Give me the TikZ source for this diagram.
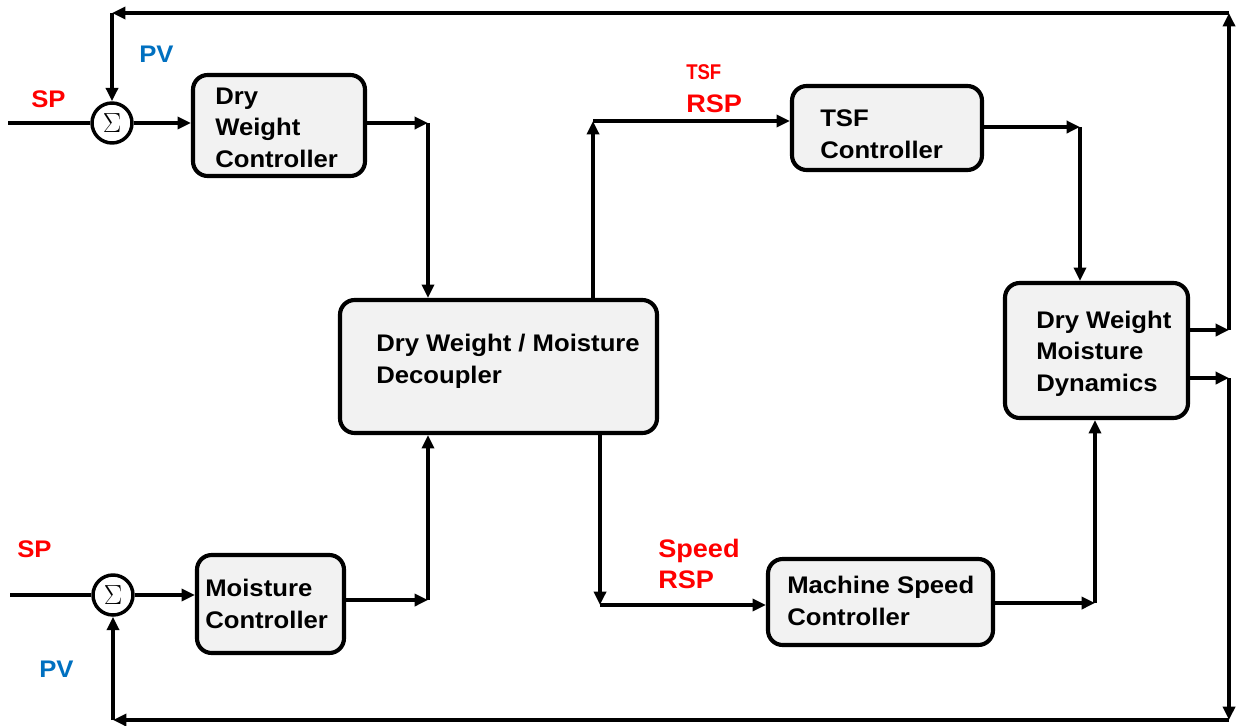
\documentclass[tikz,border=0pt]{standalone}
\usepackage{fontspec}
\setmainfont{Liberation Sans}[FakeStretch=1.07]
\newfontfamily\narrowsf{Liberation Sans}[FakeStretch=0.87]
\usetikzlibrary{arrows.meta,fit}
\definecolor{boxgray}{HTML}{F2F2F2}
\definecolor{sred}{HTML}{FF0000}
\definecolor{pvblue}{HTML}{0070C0}
\begin{document}
\begin{tikzpicture}[x=0.75pt,y=-0.75pt,
  box/.style={draw, line width=3.1pt, rounded corners=11pt, fill=boxgray, inner sep=0pt},
  sumnode/.style={circle, draw, line width=2.6pt, minimum size=30pt, inner sep=0pt, fill=white, font=\fontsize{22}{22}\selectfont},
  wire/.style={line width=2.6pt},
  arr/.style={wire, -{Triangle[length=10pt,width=9pt]}},
  txt/.style={font=\fontsize{18}{23.5}\selectfont\bfseries, align=left, anchor=base west, inner sep=0pt},
  redlbl/.style={txt, text=sred, font=\fontsize{19}{23.25}\selectfont\bfseries},
  bluelbl/.style={txt, text=pvblue}
]
\useasboundingbox (0,0) rectangle (1238,725);

% blocks
\node[sumnode] (s1) at (112,123) {$\Sigma$};
\node[sumnode] (s2) at (113,595) {$\Sigma$};
\node[box, fit={(193,75) (365,176)}] (dwc) {};
\node[box, fit={(340,300) (657,433)}] (dec) {};
\node[box, fit={(197,555) (344,653)}] (mc) {};
\node[box, fit={(792,86) (982,170)}] (tsf) {};
\node[box, fit={(768,559) (993,645)}] (msc) {};
\node[box, fit={(1005,283) (1188,418)}] (dyn) {};

% block texts (anchored at the baseline of the last line)
\node[txt] (dwct) at (215,167) {Dry\\Weight\\Controller};
\node[txt] (dect) at (376,383) {Dry Weight / Moisture\\Decoupler};
\node[txt] (mct) at (205,628) {Moisture\\Controller};
\node[txt] (tsft) at (820,158) {TSF\\Controller};
\node[txt] (msct) at (787,625) {Machine Speed\\Controller};
\node[txt] (dynt) at (1036,391) {Dry Weight\\Moisture\\Dynamics};

% labels
\node[txt, text=sred] (sp1) at (31,107) {SP};
\node[bluelbl] (pv1) at (139,62) {PV};
\node[txt, text=sred] (sp2) at (17,557) {SP};
\node[bluelbl] (pv2) at (39,677) {PV};
\node[txt, text=sred, font=\narrowsf\fontsize{16}{16}\selectfont\bfseries] (tsfl) at (686,79) {TSF};
\node[redlbl] (rsp1) at (686,112) {RSP};
\node[redlbl] (spd) at (658,588) {Speed\\RSP};

% junctions
\coordinate (in1) at (8,123);
\coordinate (in2) at (10,595);
\coordinate (j1) at (428,123);
\coordinate (j2) at (428,600);
\coordinate (j3) at (593,121);
\coordinate (j4) at (600,605);
\coordinate (j5) at (1080,127);
\coordinate (j6) at (1095,603);
\coordinate (o1) at (1229,330);
\coordinate (o2) at (1229,378);
\coordinate (tr) at (1229,13);
\coordinate (tl) at (s1.north |- tr);
\coordinate (br) at (1229,720);
\coordinate (bl) at (s2.south |- br);

% connectors
\draw[wire] (in1) -- (s1.west);
\draw[arr] (s1.east) -- (dwc.west |- s1.east);
\draw[arr] (dwc.east |- j1) -- (j1);
\draw[arr] (j1) -- (j1 |- dec.north);
\draw[wire] (in2) -- (s2.west);
\draw[arr] (s2.east) -- (mc.west |- s2.east);
\draw[arr] (mc.east |- j2) -- (j2);
\draw[arr] (j2) -- (j2 |- dec.south);
\draw[arr] (j3 |- dec.north) -- (j3);
\draw[arr] (j3) -- (tsf.west |- j3);
\draw[arr] (tsf.east |- j5) -- (j5);
\draw[arr] (j5) -- (j5 |- dyn.north);
\draw[arr] (j4 |- dec.south) -- (j4);
\draw[arr] (j4) -- (msc.west |- j4);
\draw[arr] (msc.east |- j6) -- (j6);
\draw[arr] (j6) -- (j6 |- dyn.south);
\draw[arr] (dyn.east |- o1) -- (o1);
\draw[arr] (o1) -- (tr);
\draw[arr] (tr) -- (tl);
\draw[arr] (tl) -- (s1.north);
\draw[arr] (dyn.east |- o2) -- (o2);
\draw[arr] (o2) -- (br);
\draw[arr] (br) -- (bl);
\draw[arr] (bl) -- (s2.south);
\end{tikzpicture}
\end{document}
